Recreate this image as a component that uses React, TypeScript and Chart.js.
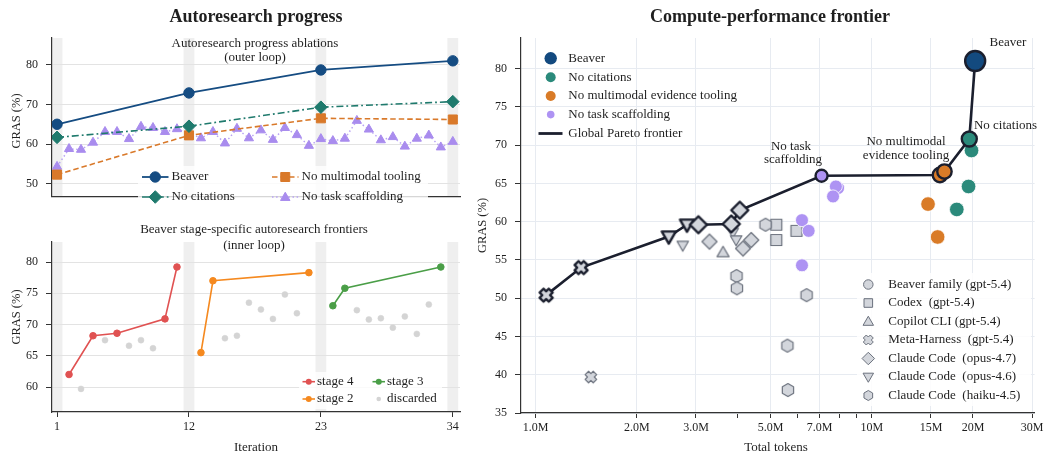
import React, { useEffect, useRef } from 'react';
import { Chart, registerables } from 'chart.js';

Chart.register(...registerables);

// ---------------- Data: Autoresearch progress ablations (outer loop) ----------------
const iterationTicks = [1, 12, 23, 34];
const outerIterations = [1, 12, 23, 34];
const beaverOuter = [65.0, 72.9, 78.7, 81.0];
const noCitationsOuter = [61.7, 64.5, 69.3, 70.7];
const noMultimodalOuter = [52.3, 62.2, 66.5, 66.2];
const scaffoldIterations = [1, 2, 3, 4, 5, 6, 7, 8, 9, 10, 11, 12, 13, 14, 15, 16, 17, 18, 19, 20, 21, 22, 23, 24, 25, 26, 27, 28, 29, 30, 31, 32, 33, 34];
const noScaffoldingOuter = [54.3, 58.8, 58.6, 60.4, 63.1, 63.1, 61.3, 64.4, 64.1, 63.1, 63.8, 62.8, 61.5, 63.1, 60.2, 63.9, 61.5, 63.5, 61.1, 64.1, 62.3, 59.6, 61.3, 60.8, 61.4, 65.9, 63.7, 61.0, 61.8, 59.4, 61.4, 62.2, 59.2, 60.6];
const grasTicksTop = [50, 60, 70, 80];

// ---------------- Data: stage-specific frontiers (inner loop) ----------------
const stage4Iterations = [2, 4, 6, 10, 11];
const stage4Gras = [62.0, 68.2, 68.6, 70.9, 79.2];
const stage2Iterations = [13, 14, 22];
const stage2Gras = [65.5, 77.0, 78.3];
const stage3Iterations = [24, 25, 33];
const stage3Gras = [73.0, 75.8, 79.2];
const discardedIterations = [3, 5, 7, 8, 9, 15, 16, 17, 18, 19, 20, 21, 26, 27, 28, 29, 30, 31, 32];
const discardedGras = [59.7, 67.5, 66.6, 67.5, 66.2, 67.8, 68.2, 73.5, 72.4, 70.9, 74.8, 71.8, 72.3, 70.8, 71.0, 69.5, 71.3, 68.5, 73.2];
const grasTicksBottom = [60, 65, 70, 75, 80];

// ---------------- Data: compute-performance frontier (tokens in millions) ----------------
const tokenTicks = [1, 2, 3, 4, 5, 6, 7, 8, 9, 10, 15, 20, 30];
const tokenTickLabels = [1, 2, 3, 5, 7, 10, 15, 20, 30];
const grasTicksRight = [35, 40, 45, 50, 55, 60, 65, 70, 75, 80];

const beaverParetoTokens = [20.3];
const beaverParetoGras = [81.0];
const noCitationsParetoTokens = [19.5];
const noCitationsParetoGras = [70.8];
const noCitationsTokens = [19.8, 19.4, 17.9];
const noCitationsGras = [69.3, 64.6, 61.6];
const noMultimodalParetoTokens = [15.95, 16.45];
const noMultimodalParetoGras = [66.1, 66.55];
const noMultimodalTokens = [14.7, 15.7];
const noMultimodalGras = [62.3, 58.0];
const noScaffoldingParetoTokens = [7.09];
const noScaffoldingParetoGras = [66.0];
const noScaffoldingTokens = [7.94, 7.82, 7.67, 6.2, 6.49, 6.2];
const noScaffoldingGras = [64.4, 64.6, 63.3, 60.2, 58.8, 54.3];

const codexTokens = [5.2, 5.2, 5.97];
const codexGras = [59.6, 57.6, 58.8];
const copilotTokens = [3.61];
const copilotGras = [56.0];
const metaParetoTokens = [1.075, 1.366];
const metaParetoGras = [50.4, 54.0];
const metaTokens = [1.46];
const metaGras = [39.7];
const opus47ParetoTokens = [3.05, 3.82, 4.05];
const opus47ParetoGras = [59.6, 59.7, 61.5];
const opus47Tokens = [3.29, 4.14, 4.38];
const opus47Gras = [57.4, 56.5, 57.6];
const opus46ParetoTokens = [2.49, 2.82];
const opus46ParetoGras = [58.05, 59.6];
const opus46Tokens = [2.74, 3.86, 3.95];
const opus46Gras = [56.9, 58.6, 57.6];
const haikuTokens = [4.83, 3.96, 3.97, 6.4, 5.61, 5.63];
const haikuGras = [59.6, 52.9, 51.3, 50.4, 43.8, 38.0];

// ---------------- Styles ----------------
const SERIF = '"Liberation Serif", "Times New Roman", serif';
const INK = '#1f1f1f';
const AXIS = '#333333';
const GRID_LEFT = '#e3e3e3';
const GRID_RIGHT = '#e7ebf1';
const BAND = '#efefef';

const BLUE = '#154c82';
const TEAL = '#1f7a6d';
const ORANGE = '#d9792a';
const PURPLE = '#a98cee';
const PURPLE_LINE = '#b9a4f3';

const RED = '#e05252';
const ORANGE2 = '#f5891f';
const GREEN = '#4a9e47';
const DISCARD = '#d4d4d4';

const R_BLUE = '#134a7f';
const R_TEAL = '#2b8a7b';
const R_ORANGE = '#d97b27';
const R_PURPLE = '#ae93f3';
const DARK = '#1b1f2e';
const G_FILL = '#d3d6dc';
const G_EDGE = '#6b717d';

type P = { x: number; y: number };
const pts = (xs: number[], ys: number[]): P[] => xs.map((x, i) => ({ x, y: ys[i] }));

type Shape = 'circle' | 'square' | 'triUp' | 'triDown' | 'diamond' | 'hex' | 'x';

function tracePath(ctx: CanvasRenderingContext2D, shape: Shape, cx: number, cy: number, s: number) {
  const r = s / 2;
  ctx.beginPath();
  switch (shape) {
    case 'circle':
      ctx.arc(cx, cy, r, 0, Math.PI * 2);
      break;
    case 'square':
      ctx.rect(cx - r, cy - r, s, s);
      break;
    case 'triUp': {
      const h = s * 0.866;
      ctx.moveTo(cx, cy - h * 0.58);
      ctx.lineTo(cx + r, cy + h * 0.42);
      ctx.lineTo(cx - r, cy + h * 0.42);
      ctx.closePath();
      break;
    }
    case 'triDown': {
      const h = s * 0.866;
      ctx.moveTo(cx, cy + h * 0.58);
      ctx.lineTo(cx + r, cy - h * 0.42);
      ctx.lineTo(cx - r, cy - h * 0.42);
      ctx.closePath();
      break;
    }
    case 'diamond':
      ctx.moveTo(cx, cy - r);
      ctx.lineTo(cx + r, cy);
      ctx.lineTo(cx, cy + r);
      ctx.lineTo(cx - r, cy);
      ctx.closePath();
      break;
    case 'hex':
      for (let i = 0; i < 6; i++) {
        const a = -Math.PI / 2 + (i * Math.PI) / 3;
        const px = cx + r * Math.cos(a);
        const py = cy + r * Math.sin(a);
        if (i === 0) ctx.moveTo(px, py);
        else ctx.lineTo(px, py);
      }
      ctx.closePath();
      break;
    case 'x': {
      const q = r * Math.SQRT2;
      const a = q * 0.3;
      const L = q * 0.7;
      const raw = [[a, L], [a, a], [L, a], [L, -a], [a, -a], [a, -L], [-a, -L], [-a, -a], [-L, -a], [-L, a], [-a, a], [-a, L]];
      const c = Math.SQRT1_2;
      raw.forEach(([px, py], i) => {
        const X = cx + (px - py) * c;
        const Y = cy + (px + py) * c;
        if (i === 0) ctx.moveTo(X, Y);
        else ctx.lineTo(X, Y);
      });
      ctx.closePath();
      break;
    }
  }
}

function drawShape(ctx: CanvasRenderingContext2D, shape: Shape, cx: number, cy: number, s: number, fill: string, stroke: string, lw: number) {
  ctx.save();
  tracePath(ctx, shape, cx, cy, s);
  ctx.fillStyle = fill;
  ctx.fill();
  if (lw > 0) {
    ctx.lineWidth = lw;
    ctx.strokeStyle = stroke;
    ctx.lineJoin = 'round';
    ctx.stroke();
  }
  ctx.restore();
}

function markerCanvas(shape: Shape, s: number, fill: string, stroke: string, lw: number) {
  const dim = Math.ceil(s + lw * 2 + 4);
  const c = document.createElement('canvas');
  c.width = dim;
  c.height = dim;
  const ctx = c.getContext('2d')!;
  drawShape(ctx, shape, dim / 2, dim / 2, s, fill, stroke, lw);
  return c;
}

function txt(ctx: CanvasRenderingContext2D, s: string, x: number, y: number, size = 13, opts: { bold?: boolean; align?: CanvasTextAlign; rotate?: number; color?: string } = {}) {
  ctx.save();
  ctx.font = `${opts.bold ? 'bold ' : ''}${size}px ${SERIF}`;
  ctx.fillStyle = opts.color || INK;
  ctx.textAlign = opts.align || 'left';
  ctx.textBaseline = 'middle';
  ctx.translate(x, y);
  if (opts.rotate) ctx.rotate(opts.rotate);
  ctx.fillText(s, 0, 0);
  ctx.restore();
}

function handle(ctx: CanvasRenderingContext2D, x1: number, x2: number, y: number, color: string, width: number, dash: number[]) {
  ctx.save();
  ctx.strokeStyle = color;
  ctx.lineWidth = width;
  ctx.setLineDash(dash);
  ctx.beginPath();
  ctx.moveTo(x1, y);
  ctx.lineTo(x2, y);
  ctx.stroke();
  ctx.restore();
}

function whiteBox(ctx: CanvasRenderingContext2D, x: number, y: number, w: number, h: number, alpha: number) {
  ctx.save();
  ctx.fillStyle = `rgba(255,255,255,${alpha})`;
  ctx.fillRect(x, y, w, h);
  ctx.restore();
}

type Draw = (chart: any, ctx: CanvasRenderingContext2D) => void;

function overlay(ox: number, oy: number, under: Draw | null, over: Draw | null) {
  return {
    id: 'overlay',
    beforeDraw(chart: any) {
      if (!under) return;
      const c = chart.ctx;
      c.save();
      under(chart, c);
      c.restore();
    },
    afterDraw(chart: any) {
      if (!over) return;
      const c = chart.ctx;
      c.save();
      c.translate(-ox, -oy);
      over(chart, c);
      c.restore();
    },
  };
}

function drawBands(chart: any, ctx: CanvasRenderingContext2D) {
  const xs = chart.scales.x;
  const a = chart.chartArea;
  ctx.fillStyle = BAND;
  for (const v of iterationTicks) {
    const l = xs.getPixelForValue(v - 0.45);
    const r = xs.getPixelForValue(v + 0.45);
    ctx.fillRect(l, a.top, r - l, a.bottom - a.top);
  }
}

const tickFont = { family: SERIF, size: 12 };

// ---------------- Panel A: outer loop ----------------
function configA() {
  return {
    type: 'line',
    data: {
      datasets: [
        {
          data: pts(outerIterations, beaverOuter), borderColor: BLUE, borderWidth: 1.8,
          pointStyle: 'circle', pointRadius: 5.2, pointBackgroundColor: BLUE, pointBorderColor: BLUE, pointBorderWidth: 1, order: 1,
        },
        {
          data: pts(outerIterations, noCitationsOuter), borderColor: TEAL, borderWidth: 1.6, borderDash: [7, 3, 1.8, 3],
          pointStyle: 'rectRot', pointRadius: 6.3, pointBackgroundColor: TEAL, pointBorderColor: TEAL, pointBorderWidth: 1, order: 2,
        },
        {
          data: pts(outerIterations, noMultimodalOuter), borderColor: ORANGE, borderWidth: 1.6, borderDash: [5.5, 3],
          pointStyle: 'rect', pointRadius: 6.4, pointBackgroundColor: ORANGE, pointBorderColor: ORANGE, pointBorderWidth: 1, order: 3,
        },
        {
          data: pts(scaffoldIterations, noScaffoldingOuter), borderColor: PURPLE_LINE, borderWidth: 1.5, borderDash: [1.5, 2.6],
          pointStyle: 'triangle', pointRadius: 5.3, pointBackgroundColor: PURPLE, pointBorderColor: PURPLE, pointBorderWidth: 1, order: 4,
        },
      ],
    },
    options: {
      responsive: false, animation: false, devicePixelRatio: 1,
      layout: { padding: { left: 0, right: 10, top: 38, bottom: 0 } },
      plugins: { legend: { display: false }, tooltip: { enabled: false } },
      scales: {
        x: {
          type: 'linear', min: 0.58, max: 34.6,
          afterBuildTicks: (s: any) => { s.ticks = iterationTicks.map((v) => ({ value: v })); },
          afterFit: (s: any) => { s.height = 4; },
          ticks: { display: false },
          grid: { display: false },
          border: { color: AXIS, width: 1.2 },
        },
        y: {
          min: 46.7, max: 86.76,
          afterBuildTicks: (s: any) => { s.ticks = grasTicksTop.map((v) => ({ value: v })); },
          afterFit: (s: any) => { s.width = 52; },
          ticks: { font: tickFont, color: INK, padding: 8 },
          grid: { color: GRID_LEFT, tickColor: AXIS, tickLength: 6 },
          border: { color: AXIS, width: 1.2 },
        },
      },
    },
    plugins: [
      overlay(0, 0, drawBands, (chart, ctx) => {
        txt(ctx, 'Autoresearch progress', 256, 17, 18, { bold: true, align: 'center' });
        txt(ctx, 'Autoresearch progress ablations', 255, 43.5, 13, { align: 'center' });
        txt(ctx, '(outer loop)', 255, 57.5, 13, { align: 'center' });
        txt(ctx, 'GRAS (%)', 16.5, 121, 12.5, { align: 'center', rotate: -Math.PI / 2 });
        whiteBox(ctx, 138, 166, 290, 41, 0.8);
        const rows = [
          { label: 'Beaver', x: 142, y: 177, color: BLUE, dash: [] as number[], shape: 'circle' as Shape, s: 10.4 },
          { label: 'No multimodal tooling', x: 272, y: 177, color: ORANGE, dash: [5.5, 3], shape: 'square' as Shape, s: 9 },
          { label: 'No citations', x: 142, y: 197, color: TEAL, dash: [7, 3, 1.8, 3], shape: 'diamond' as Shape, s: 12.6 },
          { label: 'No task scaffolding', x: 272, y: 197, color: PURPLE_LINE, dash: [1.5, 2.6], shape: 'triUp' as Shape, s: 9.5 },
        ];
        for (const r of rows) {
          handle(ctx, r.x, r.x + 26.5, r.y, r.color, r.label === 'Beaver' ? 1.8 : 1.6, r.dash);
          const mc = r.shape === 'triUp' ? PURPLE : r.color;
          drawShape(ctx, r.shape, r.x + 13.25, r.y, r.s, mc, mc, 1);
          txt(ctx, r.label, r.x + 29.5, r.y, 13);
        }
      }),
    ],
  };
}

// ---------------- Panel B: inner loop ----------------
function configB() {
  const line = (xs: number[], ys: number[], color: string, order: number) => ({
    data: pts(xs, ys), borderColor: color, borderWidth: 1.6, pointStyle: 'circle', pointRadius: 3.3,
    pointBackgroundColor: color, pointBorderColor: color, pointBorderWidth: 1, order,
  });
  return {
    type: 'line',
    data: {
      datasets: [
        line(stage4Iterations, stage4Gras, RED, 1),
        line(stage2Iterations, stage2Gras, ORANGE2, 2),
        line(stage3Iterations, stage3Gras, GREEN, 3),
        {
          data: pts(discardedIterations, discardedGras), showLine: false, pointStyle: 'circle', pointRadius: 3,
          pointBackgroundColor: DISCARD, pointBorderColor: DISCARD, pointBorderWidth: 0.5, order: 4,
        },
      ],
    },
    options: {
      responsive: false, animation: false, devicePixelRatio: 1,
      layout: { padding: { left: 0, right: 10, top: 30, bottom: 0 } },
      plugins: { legend: { display: false }, tooltip: { enabled: false } },
      scales: {
        x: {
          type: 'linear', min: 0.58, max: 34.6,
          afterBuildTicks: (s: any) => { s.ticks = iterationTicks.map((v) => ({ value: v })); },
          afterFit: (s: any) => { s.height = 41; },
          ticks: { font: tickFont, color: INK, padding: 3, maxRotation: 0, autoSkip: false },
          grid: { drawOnChartArea: false, drawTicks: true, tickLength: 5, tickColor: AXIS },
          border: { color: AXIS, width: 1.2 },
        },
        y: {
          min: 56, max: 83.2,
          afterBuildTicks: (s: any) => { s.ticks = grasTicksBottom.map((v) => ({ value: v })); },
          afterFit: (s: any) => { s.width = 52; },
          ticks: { font: tickFont, color: INK, padding: 8 },
          grid: { color: GRID_LEFT, tickColor: AXIS, tickLength: 6 },
          border: { color: AXIS, width: 1.2 },
        },
      },
    },
    plugins: [
      overlay(0, 212, drawBands, (chart, ctx) => {
        txt(ctx, 'Beaver stage-specific autoresearch frontiers', 254, 230, 13, { align: 'center' });
        txt(ctx, '(inner loop)', 254, 246, 13, { align: 'center' });
        txt(ctx, 'GRAS (%)', 16.5, 317, 12.5, { align: 'center', rotate: -Math.PI / 2 });
        txt(ctx, 'Iteration', 256, 448, 13, { align: 'center' });
        whiteBox(ctx, 299, 372, 143, 37, 0.8);
        const rows = [
          { label: 'stage 4', x: 302.5, y: 381.7, color: RED },
          { label: 'stage 3', x: 372.5, y: 381.7, color: GREEN },
          { label: 'stage 2', x: 302.5, y: 399, color: ORANGE2 },
        ];
        for (const r of rows) {
          handle(ctx, r.x, r.x + 12.5, r.y, r.color, 1.6, []);
          drawShape(ctx, 'circle', r.x + 6.25, r.y, 6, r.color, r.color, 0);
          txt(ctx, r.label, r.x + 14.5, r.y, 13);
        }
        drawShape(ctx, 'circle', 378.75, 399, 4.6, DISCARD, DISCARD, 0);
        txt(ctx, 'discarded', 387, 399, 13);
      }),
    ],
  };
}

// ---------------- Panel C: compute-performance frontier ----------------
function configC() {
  const gray = (xs: number[], ys: number[], shape: Shape, s: number, order: number) => ({
    data: pts(xs, ys), showLine: false, pointStyle: markerCanvas(shape, s, G_FILL, G_EDGE, 1.2), pointRadius: s / 2, order,
  });
  const grayPareto = (xs: number[], ys: number[], shape: Shape, s: number, order: number) => ({
    data: pts(xs, ys), showLine: false, pointStyle: markerCanvas(shape, s, G_FILL, DARK, 2.4), pointRadius: s / 2, order,
  });
  const dots = (xs: number[], ys: number[], color: string, r: number, order: number) => ({
    data: pts(xs, ys), showLine: false, pointStyle: 'circle', pointRadius: r,
    pointBackgroundColor: color, pointBorderColor: '#ffffff', pointBorderWidth: 0.8, order,
  });
  const bigDots = (xs: number[], ys: number[], color: string, r: number, order: number) => ({
    data: pts(xs, ys), showLine: false, pointStyle: 'circle', pointRadius: r,
    pointBackgroundColor: color, pointBorderColor: DARK, pointBorderWidth: 2.4, order,
  });

  const paretoPoints = [
    ...pts(metaParetoTokens, metaParetoGras),
    ...pts(opus46ParetoTokens, opus46ParetoGras),
    ...pts(opus47ParetoTokens, opus47ParetoGras),
    ...pts(noScaffoldingParetoTokens, noScaffoldingParetoGras),
    ...pts(noMultimodalParetoTokens, noMultimodalParetoGras),
    ...pts(noCitationsParetoTokens, noCitationsParetoGras),
    ...pts(beaverParetoTokens, beaverParetoGras),
  ].sort((a, b) => a.x - b.x);

  return {
    type: 'scatter',
    data: {
      datasets: [
        gray(haikuTokens, haikuGras, 'hex', 13, 30),
        gray(codexTokens, codexGras, 'square', 11, 30),
        gray(copilotTokens, copilotGras, 'triUp', 12, 30),
        gray(opus46Tokens, opus46Gras, 'triDown', 11.5, 30),
        gray(opus47Tokens, opus47Gras, 'diamond', 15, 29),
        gray(metaTokens, metaGras, 'x', 11.5, 30),
        dots(noCitationsTokens, noCitationsGras, R_TEAL, 7.3, 20),
        dots(noMultimodalTokens, noMultimodalGras, R_ORANGE, 7.3, 20),
        dots(noScaffoldingTokens, noScaffoldingGras, R_PURPLE, 6.5, 20),
        {
          data: paretoPoints, showLine: true, borderColor: DARK, borderWidth: 2.6, pointRadius: 0, order: 10,
        },
        grayPareto(metaParetoTokens, metaParetoGras, 'x', 13, 5),
        grayPareto(opus46ParetoTokens, opus46ParetoGras, 'triDown', 14, 5),
        grayPareto(opus47ParetoTokens, opus47ParetoGras, 'diamond', 17, 4),
        bigDots(noScaffoldingParetoTokens, noScaffoldingParetoGras, R_PURPLE, 6, 3),
        bigDots(noMultimodalParetoTokens, noMultimodalParetoGras, R_ORANGE, 7.2, 3),
        bigDots(noCitationsParetoTokens, noCitationsParetoGras, R_TEAL, 7.5, 2),
        bigDots(beaverParetoTokens, beaverParetoGras, R_BLUE, 10, 1),
      ],
    },
    options: {
      responsive: false, animation: false, devicePixelRatio: 1,
      layout: { padding: { left: 0, right: 12.4, top: 38, bottom: 0 } },
      plugins: { legend: { display: false }, tooltip: { enabled: false } },
      scales: {
        x: {
          type: 'logarithmic', min: 0.905, max: 30.5,
          afterBuildTicks: (s: any) => { s.ticks = tokenTicks.map((v) => ({ value: v })); },
          afterFit: (s: any) => { s.height = 40; },
          ticks: {
            font: tickFont, color: INK, padding: 3, maxRotation: 0, autoSkip: false,
            callback: (v: number) => (tokenTickLabels.includes(v) ? (v >= 10 ? `${v}M` : `${v.toFixed(1)}M`) : ''),
          },
          grid: {
            color: (c: any) => (c.tick && tokenTickLabels.includes(c.tick.value) ? GRID_RIGHT : 'rgba(0,0,0,0)'),
            tickColor: AXIS, tickLength: 5,
          },
          border: { color: AXIS, width: 1.2 },
        },
        y: {
          min: 35, max: 84,
          afterBuildTicks: (s: any) => { s.ticks = grasTicksRight.map((v) => ({ value: v })); },
          afterFit: (s: any) => { s.width = 51; },
          ticks: { font: tickFont, color: INK, padding: 8 },
          grid: { color: GRID_RIGHT, tickColor: AXIS, tickLength: 6 },
          border: { color: AXIS, width: 1.2 },
        },
      },
    },
    plugins: [
      overlay(470, 0, null, (chart, ctx) => {
        txt(ctx, 'Compute-performance frontier', 770, 17, 18, { bold: true, align: 'center' });
        txt(ctx, 'GRAS (%)', 483, 225.5, 12.5, { align: 'center', rotate: -Math.PI / 2 });
        txt(ctx, 'Total tokens', 776, 448, 13, { align: 'center' });
        // point annotations
        txt(ctx, 'Beaver', 1008, 43, 13, { align: 'center' });
        txt(ctx, 'No citations', 1005.5, 126, 13, { align: 'center' });
        txt(ctx, 'No multimodal', 906, 142, 13, { align: 'center' });
        txt(ctx, 'evidence tooling', 906, 156, 13, { align: 'center' });
        txt(ctx, 'No task', 791, 147, 13, { align: 'center' });
        txt(ctx, 'scaffolding', 793, 160, 13, { align: 'center' });
        // top-left legend
        const top = [
          { label: 'Beaver', y: 58.3, color: R_BLUE, r: 6.2 },
          { label: 'No citations', y: 77.3, color: R_TEAL, r: 5 },
          { label: 'No multimodal evidence tooling', y: 96, color: R_ORANGE, r: 5 },
          { label: 'No task scaffolding', y: 114.6, color: R_PURPLE, r: 3.8 },
        ];
        for (const t of top) {
          drawShape(ctx, 'circle', 550.7, t.y, t.r * 2, t.color, t.color, 0);
          txt(ctx, t.label, 568.3, t.y, 13);
        }
        handle(ctx, 538.5, 562.5, 133.5, DARK, 2.8, []);
        txt(ctx, 'Global Pareto frontier', 568.3, 133.5, 13);
        // bottom-right legend
        whiteBox(ctx, 857, 273, 174, 133, 0.85);
        const bottom: { label: string; shape: Shape; s: number }[] = [
          { label: 'Beaver family (gpt-5.4)', shape: 'circle', s: 9.5 },
          { label: 'Codex  (gpt-5.4)', shape: 'square', s: 8.6 },
          { label: 'Copilot CLI (gpt-5.4)', shape: 'triUp', s: 10.5 },
          { label: 'Meta-Harness  (gpt-5.4)', shape: 'x', s: 10 },
          { label: 'Claude Code  (opus-4.7)', shape: 'diamond', s: 12.5 },
          { label: 'Claude Code  (opus-4.6)', shape: 'triDown', s: 10.5 },
          { label: 'Claude Code  (haiku-4.5)', shape: 'hex', s: 10 },
        ];
        bottom.forEach((b, i) => {
          const y = 284.5 + i * 18.5;
          drawShape(ctx, b.shape, 868.3, y, b.s, G_FILL, G_EDGE, 1);
          txt(ctx, b.label, 888.3, y, 13);
        });
      }),
    ],
  };
}

function ChartBox({ left, top, width, height, build }: { left: number; top: number; width: number; height: number; build: () => any }) {
  const ref = useRef<HTMLCanvasElement>(null);
  useEffect(() => {
    const chart = new Chart(ref.current as HTMLCanvasElement, build());
    return () => chart.destroy();
  }, []);
  return (
    <canvas
      ref={ref}
      width={width}
      height={height}
      style={{ position: 'absolute', left, top, width, height, display: 'block' }}
    />
  );
}

export default function App() {
  return (
    <div style={{ position: 'fixed', left: 0, top: 0, width: 1047, height: 453, background: '#ffffff', overflow: 'hidden' }}>
      <ChartBox left={470} top={0} width={577} height={453} build={configC} />
      <ChartBox left={0} top={0} width={470} height={212} build={configA} />
      <ChartBox left={0} top={212} width={470} height={241} build={configB} />
    </div>
  );
}
